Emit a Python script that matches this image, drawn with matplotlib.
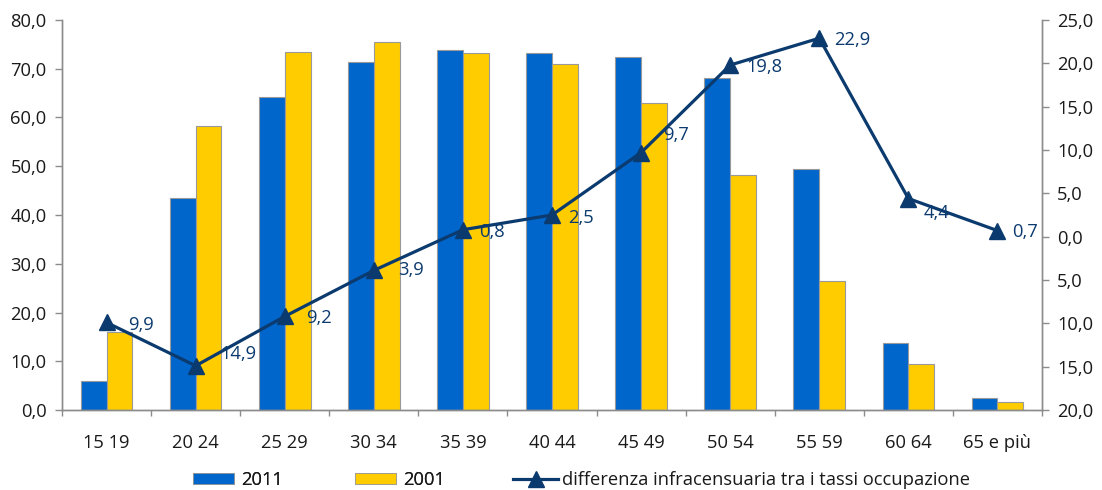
import matplotlib
matplotlib.use("Agg")
import matplotlib.pyplot as plt
import numpy as np
from matplotlib.ticker import FixedLocator, FuncFormatter, NullFormatter
from matplotlib.lines import Line2D
from matplotlib.patches import Patch

plt.rcParams['font.family'] = ['Open Sans', 'DejaVu Sans']

categories = ["15 19", "20 24", "25 29", "30 34", "35 39", "40 44",
              "45 49", "50 54", "55 59", "60 64", "65 e più"]
v2011 = [6.0, 43.5, 64.2, 71.4, 73.8, 73.2, 72.5, 68.1, 49.4, 13.8, 2.4]
v2001 = [16.1, 58.3, 73.4, 75.5, 73.2, 71.0, 63.0, 48.2, 26.5, 9.5, 1.7]
diff = [-9.9, -14.9, -9.2, -3.9, 0.8, 2.5, 9.7, 19.8, 22.9, 4.4, 0.7]
left_ticks = [0, 10, 20, 30, 40, 50, 60, 70, 80]
right_ticks = [-20, -15, -10, -5, 0, 5, 10, 15, 20, 25]
legend_labels = ["2011", "2001", "differenza infracensuaria tra i tassi occupazione"]

# label offsets in pixels (dx, dy-down)
label_offsets = [(22, 3), (25, -12), (21, 2), (24, 0), (16, 2), (16, 3),
                 (22, -18), (16, 2), (15, 2), (15, 14), (15, 1)]

W, H = 1102, 490
fig = plt.figure(figsize=(W / 100, H / 100), dpi=100)
ax = fig.add_axes([62 / W, (H - 410) / H, (1042 - 62) / W, (410 - 20) / H])
ax2 = ax.twinx()

BLUE = "#0066CC"
YELLOW = "#FFCC00"
NAVY = "#0B3A6E"
EDGE = "#999999"
GRAY = "#8C8C8C"
TXT = "#1a1a1a"
fs = 13.2

x = np.arange(len(categories))
bw = 0.29
ax.bar(x - bw / 2, v2011, width=bw, color=BLUE, edgecolor=EDGE, linewidth=0.8, zorder=2)
ax.bar(x + bw / 2, v2001, width=bw, color=YELLOW, edgecolor=EDGE, linewidth=0.8, zorder=2)
ax.set_xlim(-0.5, len(categories) - 0.5)
ax.set_ylim(0, 80)
ax.set_yticks(left_ticks)
ax.yaxis.set_major_formatter(FuncFormatter(lambda v, p: f"{v:.1f}".replace(".", ",")))

ax2.plot(x, diff, color=NAVY, linewidth=2.3, marker="^", markersize=12,
         markerfacecolor=NAVY, markeredgecolor=NAVY, zorder=5, clip_on=False)
ax2.set_ylim(-20, 25)
ax2.set_yticks(right_ticks)
ax2.yaxis.set_major_formatter(FuncFormatter(lambda v, p: f"{abs(v):.1f}".replace(".", ",")))

for xi, d, (dx, dy) in zip(x, diff, label_offsets):
    ax2.annotate(f"{abs(d):.1f}".replace(".", ","), (xi, d),
                 xytext=(dx * 0.72, -dy * 0.72), textcoords="offset points",
                 ha="left", va="center", fontsize=fs, color=NAVY, zorder=6)

# x axis: ticks at boundaries, labels at centers
ax.xaxis.set_major_locator(FixedLocator(np.arange(len(categories) + 1) - 0.5))
ax.xaxis.set_major_formatter(NullFormatter())
ax.xaxis.set_minor_locator(FixedLocator(x))
ax.set_xticklabels(categories, minor=True)
ax.tick_params(axis="x", which="major", direction="out", length=4.5, color=GRAY, width=1)
ax.tick_params(axis="x", which="minor", length=0, pad=17, labelsize=fs, labelcolor=TXT)
ax.tick_params(axis="y", direction="out", length=5, color=GRAY, width=1, pad=6,
               labelsize=fs, labelcolor=TXT)
ax2.tick_params(axis="y", direction="out", length=5, color=GRAY, width=1, pad=6,
                labelsize=fs, labelcolor=TXT)

for a in (ax, ax2):
    a.spines["top"].set_visible(False)
    for s in ("left", "right", "bottom"):
        a.spines[s].set_color(GRAY)
        a.spines[s].set_linewidth(1)
ax.set_zorder(1)
ax2.set_zorder(2)
ax.patch.set_visible(False)

# legends
px_per_em = fs * 100 / 72
h1 = [Patch(facecolor=BLUE, edgecolor=EDGE, linewidth=0.6),
      Patch(facecolor=YELLOW, edgecolor=EDGE, linewidth=0.6)]
leg1 = fig.legend(h1, legend_labels[:2], loc="center left", ncol=2,
                  bbox_to_anchor=(193 / W, 1 - 480 / H), frameon=False, fontsize=fs,
                  borderaxespad=0, borderpad=0, handlelength=41 / px_per_em,
                  handleheight=11 / px_per_em, handletextpad=7 / px_per_em,
                  columnspacing=72 / px_per_em)
h2 = [Line2D([0], [0], color=NAVY, linewidth=2.3, marker="^", markersize=12)]
leg2 = fig.legend(h2, legend_labels[2:], loc="center left",
                  bbox_to_anchor=(513 / W, 1 - 480 / H), frameon=False, fontsize=fs,
                  borderaxespad=0, borderpad=0, handlelength=45 / px_per_em,
                  handletextpad=4 / px_per_em)
fig.add_artist(leg1)
for t in list(leg1.get_texts()) + list(leg2.get_texts()):
    t.set_color(TXT)

fig.savefig("out.png", dpi=100)
